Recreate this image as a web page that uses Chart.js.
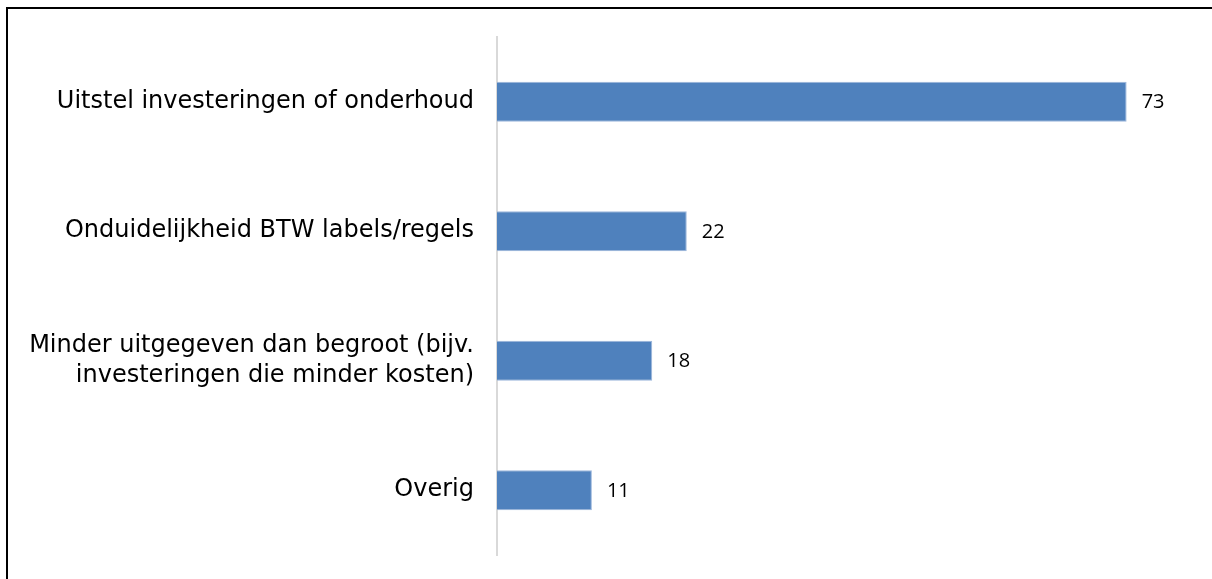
<!DOCTYPE html>
<html>
<head>
<meta charset="utf-8">
<script src="https://cdn.jsdelivr.net/npm/chart.js@4"></script>
<style>
  html, body { margin: 0; padding: 0; background: #fff; overflow: hidden; }
  #frame { position: absolute; left: 6px; top: 7px; width: 1220px; height: 590px;
           border-left: 2px solid #000; border-top: 2px solid #000; }
  #wrap { position: absolute; left: 0; top: 0; width: 1212px; height: 579px; }
</style>
</head>
<body>
<div id="frame"></div>
<div id="wrap"><canvas id="chart" width="1212" height="579"></canvas></div>
<script>
// Redenen onderbesteding
const CATEGORIES = [
  "Uitstel investeringen of onderhoud",
  "Onduidelijkheid BTW labels/regels",
  ["Minder uitgegeven dan begroot (bijv.", "investeringen die minder kosten)"],
  "Overig"
];
const VALUES = [73, 22, 18, 11];
const BAR_COLOR = "#4f81bd";

// draws the number right of each bar
const valueLabels = {
  id: "valueLabels",
  afterDatasetsDraw(chart) {
    const ctx = chart.ctx;
    const meta = chart.getDatasetMeta(0);
    ctx.save();
    ctx.fillStyle = "#000";
    ctx.font = "20px 'Open Sans', 'Liberation Sans', sans-serif";
    ctx.textBaseline = "middle";
    ctx.textAlign = "left";
    meta.data.forEach((bar, i) => {
      ctx.fillText(String(VALUES[i]), bar.x + 15, bar.y + 1);
    });
    ctx.restore();
  }
};

new Chart(document.getElementById("chart").getContext("2d"), {
  type: "bar",
  data: {
    labels: CATEGORIES,
    datasets: [{
      data: VALUES,
      backgroundColor: BAR_COLOR,
      borderColor: "#9cb7dc",
      borderWidth: 1,
      borderSkipped: "start",
      categoryPercentage: 1,
      barPercentage: 0.31,
    }]
  },
  options: {
    indexAxis: "y",
    responsive: false,
    animation: false,
    maintainAspectRatio: false,
    layout: { padding: { top: 37, bottom: 24, right: 25, left: 0 } },
    plugins: { legend: { display: false }, tooltip: { enabled: false } },
    scales: {
      x: {
        min: 0, max: 80,
        display: false,
      },
      y: {
        afterFit(scale) {
          scale.width = 497;
          // tick padding would otherwise be added above and below the axis
          scale.paddingTop = 0;
          scale.paddingBottom = 0;
        },
        grid: { display: false, drawTicks: false },
        border: { display: true, color: "#d9d9d9", width: 2 },
        ticks: {
          color: "#000",
          padding: 23,
          font: { family: "'DejaVu Sans', Verdana, sans-serif", size: 24, lineHeight: 1.25 },
        }
      }
    }
  },
  plugins: [valueLabels]
});
</script>
</body>
</html>
